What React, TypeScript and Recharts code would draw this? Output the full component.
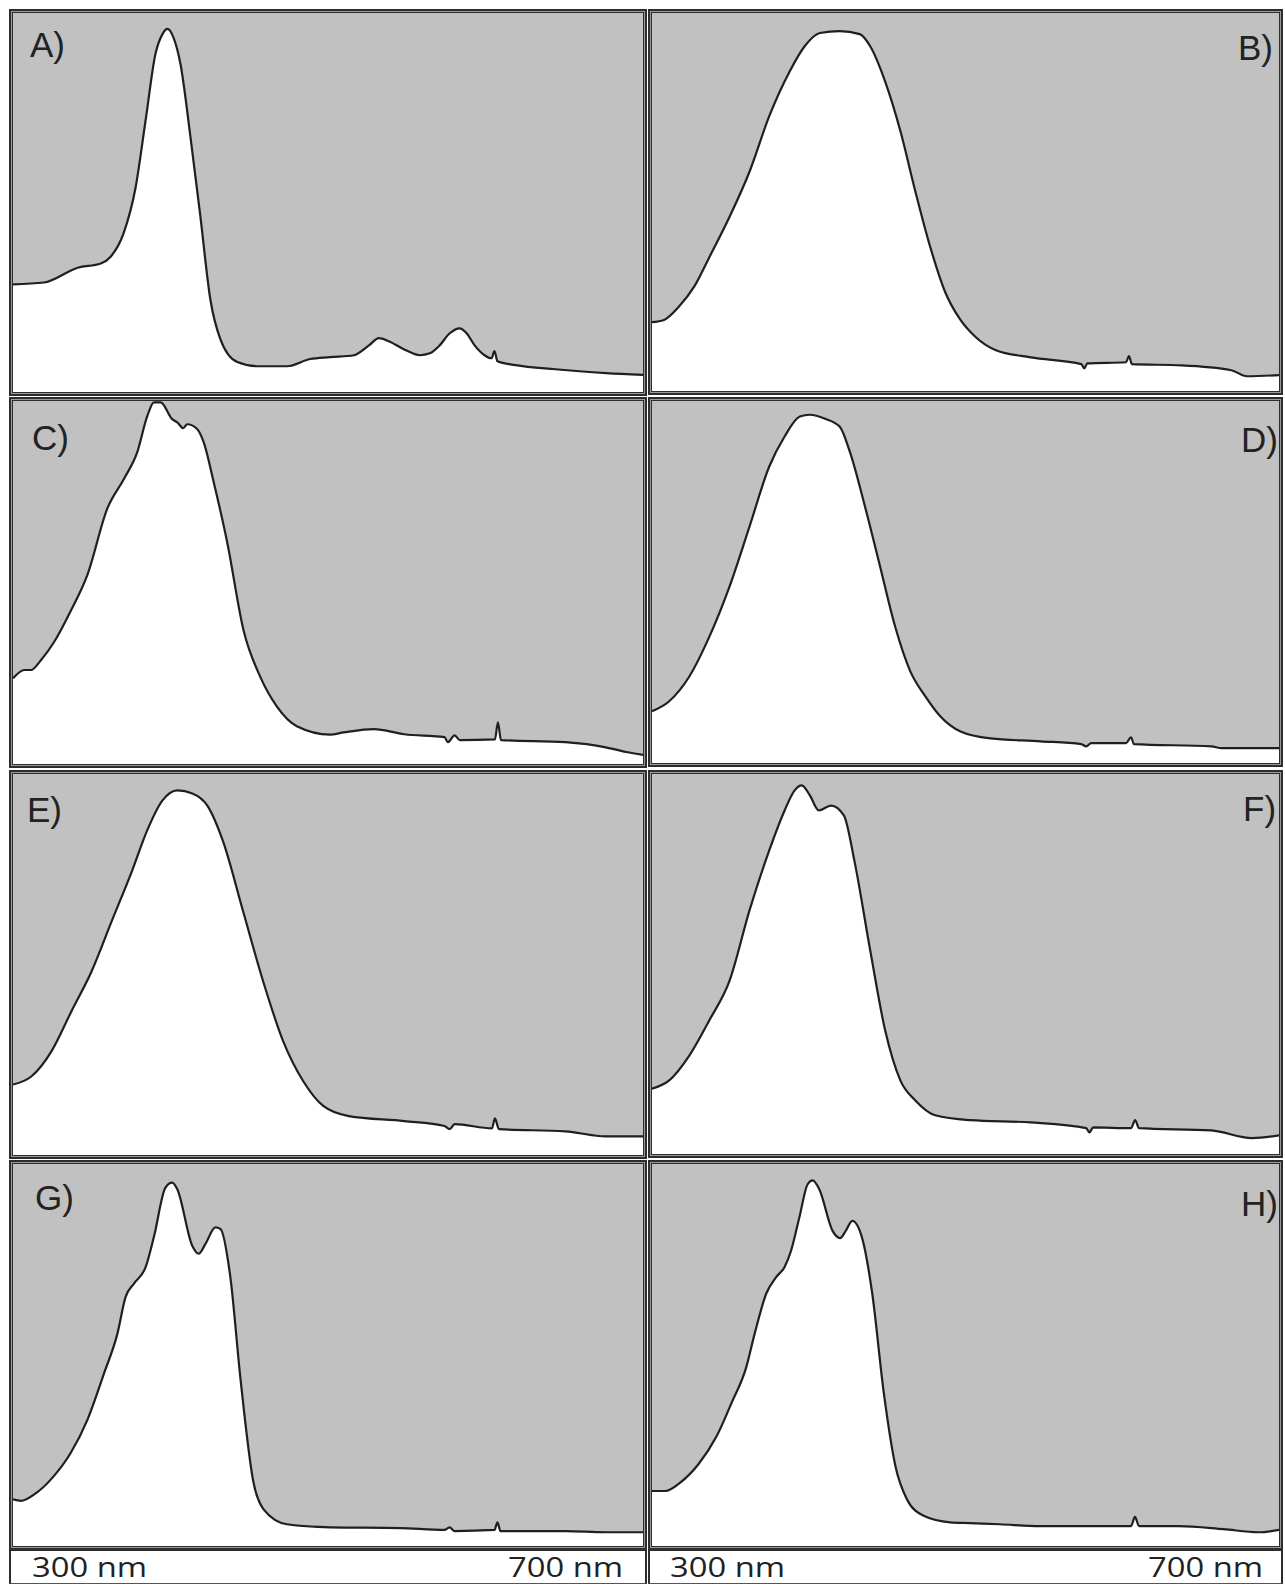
import React from "react";
import { AreaChart, Area, XAxis, YAxis } from "recharts";

// Each spectrum: [wavelength (nm), relative absorbance (% of full scale)]
const spectrumA: [number, number][] = [
  [300, 28.4], [319.6, 28.9], [341.1, 32.8], [355.7, 33.9], [362, 35.7], [370.3, 42], [377.9, 54.1],
  [384.2, 71.7], [390.5, 89.3], [395, 94.5], [398.1, 95.8], [401.9, 93.5], [406.3, 86.6], [412.7, 67.2],
  [419, 46.2], [425.3, 24.4], [431.7, 13.9], [442.4, 7.9], [455.1, 6.8], [474, 6.8], [488.6, 8.7],
  [501.3, 9.2], [516.5, 9.7], [526, 12.3], [532.3, 14.2], [538.6, 13.4], [548.1, 11.3], [558.3, 9.7],
  [564.6, 10.2], [570.9, 12.3], [577.3, 15.5], [583.6, 16.8], [588, 15.5], [593.1, 12.3], [599.4, 9.7],
  [603.8, 8.9], [605.7, 10.8], [607.6, 8.1], [619, 7.1], [644.4, 6], [676.6, 5], [700, 4.5],
];

const spectrumB: [number, number][] = [
  [300, 18.2], [307.6, 18.8], [317.1, 22.3], [326.9, 27.6], [336.6, 35.4], [349.5, 46.1], [362.2, 58],
  [374.8, 72.7], [387.9, 84.6], [397.4, 91.2], [407.1, 94.7], [419.8, 95.2], [432.5, 94.4], [439.2, 91.2],
  [448.7, 81.9], [458.5, 68.7], [468, 52.8], [477.5, 38.1], [487, 26.2], [496.8, 18.8], [506.4, 14.3],
  [519.4, 10.8], [541.6, 8.9], [573.9, 7.1], [575.8, 6], [577.7, 7.3], [602.4, 7.6], [604.3, 9.2],
  [606.2, 7.1], [637.9, 6.8], [669.6, 5.5], [679.5, 3.9], [700, 4.2],
];

const spectrumC: [number, number][] = [
  [300, 23.6], [307.2, 25.9], [311.4, 25.9], [317.7, 28.6], [326.1, 33.6], [336.7, 42.2], [347.3, 52.2],
  [359.9, 70.4], [370.5, 78.6], [378.9, 85.9], [385.3, 95.9], [389.5, 99.6], [393.7, 99.6], [401.1, 95],
  [404.3, 94.1], [408.1, 92.5], [410.6, 93.6], [416.9, 92.3], [421.1, 88.6], [427.4, 77.7], [435.9, 61.3],
  [446.4, 36.8], [457, 24], [467.6, 15.8], [480.2, 10.4], [501.3, 8.1], [510, 8.7], [529.1, 9.6],
  [548.4, 8.2], [574, 7.4], [576, 6], [580.4, 7.9], [583.6, 6.6], [606, 6.8], [607.9, 11.5],
  [609.8, 6.6], [650.7, 6], [676.4, 4.6], [689.3, 3.3], [700, 2.5],
];

const spectrumD: [number, number][] = [
  [300, 14.3], [310.8, 17], [323.8, 23.9], [336.6, 34.9], [349.5, 48.8], [362.2, 65.3], [374.8, 81.9],
  [384.6, 90.2], [394.3, 95.7], [400.7, 96.2], [410.4, 95.1], [419.8, 92.9], [426.2, 86], [435.9, 70.8],
  [445.5, 54.3], [455.1, 37.7], [464.8, 25.3], [474.4, 18.4], [483.9, 12.9], [496.8, 8.7], [516, 6.8],
  [547.9, 6], [573.9, 5.2], [577, 4.6], [580.2, 5.5], [602.4, 5.5], [605.6, 7.1], [607.5, 5.2],
  [656.9, 4.6], [663.3, 4.1], [700, 4.1],
];

const spectrumE: [number, number][] = [
  [300, 18.5], [311.6, 20.6], [324.4, 27.2], [337.2, 37.8], [350, 48.3], [362.8, 61.5], [375.6, 74.6],
  [385.2, 85.2], [394.8, 93], [404.4, 95.7], [413.9, 94.9], [423.4, 91.7], [433.2, 82.5], [446, 64.1],
  [458.8, 45.6], [471.5, 29.9], [484.4, 19.3], [497.2, 12.8], [513.2, 10.2], [548.4, 8.9], [574, 7.6],
  [577.3, 6.8], [580.4, 8.1], [604.1, 7], [606, 9.6], [608.5, 6.8], [650.7, 6.2], [676.4, 4.9], [700, 4.9],
];

const spectrumF: [number, number][] = [
  [300, 17.2], [310.8, 19.3], [323.8, 25.9], [336.6, 35.2], [349.5, 45.6], [362.2, 64.1], [374.8, 79.9],
  [384.6, 90.4], [391, 95.7], [395.5, 97], [400.7, 94.4], [406.4, 90.4], [414.2, 91.7], [422.4, 89.1],
  [429.1, 77.2], [439.2, 53.6], [448.7, 32.6], [458.5, 19.3], [468, 14.1], [480.7, 10.2], [503.2, 8.9],
  [541.6, 8.3], [577, 6.8], [579, 5.7], [581.5, 7], [605.6, 6.8], [608.2, 8.9], [610.7, 6.8],
  [656.9, 6.2], [682.8, 4.2], [700, 4.9],
];

const spectrumG: [number, number][] = [
  [300, 12.2], [305.1, 11.8], [313.5, 13.5], [325.1, 17.9], [336.7, 24.4], [347.3, 33.1], [357.8, 45.2],
  [366.3, 55.6], [371.5, 65.2], [376.8, 68.7], [384.2, 73], [389.4, 80.8], [396.8, 93.8], [401.1, 95.1],
  [404.3, 93.4], [413.8, 78.6], [417.9, 76.5], [422.2, 79.1], [428.5, 83.4], [431.7, 83], [438, 70.4],
  [444.3, 44.3], [452.7, 16.6], [459.1, 9.6], [473.9, 5.7], [501.3, 4.9], [545.6, 4.7], [574, 4.2],
  [577.2, 4.9], [580.4, 3.9], [605.7, 4.2], [607.6, 6.2], [609.5, 3.9], [650.7, 3.9], [676, 3.6], [700, 3.6],
];

const spectrumH: [number, number][] = [
  [300, 14.4], [308.5, 14.4], [318, 16.6], [329.6, 21.4], [341.2, 28.7], [350.7, 37.4], [360.2, 46.9],
  [365.5, 55.6], [372.9, 66.1], [379.2, 70.4], [384.5, 73], [388.7, 77.3], [394, 86], [399.3, 94.7],
  [402.5, 95.7], [406.7, 93.4], [415.2, 82.5], [420, 80.6], [423.6, 82.5], [427.8, 85.1], [434.2, 80.4],
  [440.5, 66.1], [447.9, 40], [455.3, 20.9], [462.7, 12.2], [473.3, 7.9], [490.2, 6.2], [502.8, 6],
  [521.9, 5.7], [547.3, 5.2], [579, 5.2], [605.6, 5.2], [608.1, 7.6], [610.7, 5.2], [636, 5.2],
  [664.6, 4.4], [686.8, 3.6], [700, 4.2],
];

const panelLabels = ["A)", "B)", "C)", "D)", "E)", "F)", "G)", "H)"];
const axisLabels = ["300 nm", "700 nm"];
const WL_MIN = 300;
const WL_MAX = 700;

const BORDER = 4;

type PanelCfg = {
  data: [number, number][];
  label: string;
  left: number;
  top: number;
  w: number;
  h: number;
  labelLeft: number;
  labelBase: number;
};

const panels: PanelCfg[] = [
  { data: spectrumA, label: panelLabels[0], left: 9, top: 9, w: 638, h: 387, labelLeft: 21, labelBase: 48 },
  { data: spectrumB, label: panelLabels[1], left: 648, top: 9, w: 635, h: 386, labelLeft: 590, labelBase: 51 },
  { data: spectrumC, label: panelLabels[2], left: 9, top: 397, w: 638, h: 371, labelLeft: 23, labelBase: 53 },
  { data: spectrumD, label: panelLabels[3], left: 648, top: 397, w: 635, h: 370, labelLeft: 593, labelBase: 55 },
  { data: spectrumE, label: panelLabels[4], left: 9, top: 770, w: 638, h: 389, labelLeft: 18, labelBase: 52 },
  { data: spectrumF, label: panelLabels[5], left: 648, top: 770, w: 635, h: 388, labelLeft: 595, labelBase: 51 },
  { data: spectrumG, label: panelLabels[6], left: 9, top: 1160, w: 638, h: 390, labelLeft: 26, labelBase: 50 },
  { data: spectrumH, label: panelLabels[7], left: 648, top: 1160, w: 635, h: 390, labelLeft: 593, labelBase: 56 },
];

function Panel({ cfg }: { cfg: PanelCfg }) {
  const data = cfg.data.map(([nm, a]) => ({ nm, a }));
  const iw = cfg.w - BORDER * 2;
  const ih = cfg.h - BORDER * 2;
  return (
    <div
      style={{
        position: "absolute",
        left: cfg.left,
        top: cfg.top,
        width: cfg.w,
        height: cfg.h,
        boxSizing: "border-box",
        border: "2px solid #2d2d2d",
        padding: 2,
        background: "#ffffff",
        boxShadow: "inset 0 0 0 1px #9a9a9a, inset 0 0 0 2px #2d2d2d",
        overflow: "hidden",
      }}
    >
      <div style={{ position: "relative", width: iw, height: ih, background: "#c1c1c1" }}>
        <AreaChart width={iw} height={ih} data={data} margin={{ top: 0, right: 0, bottom: 0, left: 0 }}>
          <XAxis dataKey="nm" type="number" domain={[WL_MIN, WL_MAX]} hide />
          <YAxis type="number" domain={[0, 100]} hide />
          <Area
            type="monotone"
            dataKey="a"
            stroke="#1f1f1f"
            strokeWidth={2.2}
            strokeLinejoin="round"
            fill="#ffffff"
            fillOpacity={1}
            isAnimationActive={false}
            dot={false}
            activeDot={false}
          />
        </AreaChart>
        <div
          style={{
            position: "absolute",
            left: cfg.labelLeft - 4,
            top: cfg.labelBase - 4 - 32,
            fontFamily: "'Liberation Sans', Arial, sans-serif",
            fontSize: 35,
            lineHeight: "40px",
            color: "#222",
            whiteSpace: "nowrap",
          }}
        >
          {cfg.label}
        </div>
      </div>
    </div>
  );
}

function LabelCell({ left, width, leftTextX, rightTextEnd }: { left: number; width: number; leftTextX: number; rightTextEnd: number }) {
  return (
    <div
      style={{
        position: "absolute",
        left,
        top: 1549,
        width,
        height: 35,
        boxSizing: "border-box",
        borderTop: "2px solid #2d2d2d",
        borderLeft: "2px solid #2d2d2d",
        borderRight: "2px solid #2d2d2d",
        borderBottom: "1px solid #555",
        background: "#fff",
      }}
    >
      <svg width={width} height={35} style={{ position: "absolute", left: -2, top: -2, overflow: "visible" }}>
        <text
          x={leftTextX}
          y={28}
          fontFamily="'Open Sans', sans-serif"
          fontSize={28}
          fill="#222"
          textLength={115}
          lengthAdjust="spacingAndGlyphs"
        >
          {axisLabels[0]}
        </text>
        <text
          x={rightTextEnd - 115}
          y={28}
          fontFamily="'Open Sans', sans-serif"
          fontSize={28}
          fill="#222"
          textLength={115}
          lengthAdjust="spacingAndGlyphs"
        >
          {axisLabels[1]}
        </text>
      </svg>
    </div>
  );
}

export default function App() {
  return (
    <div style={{ position: "absolute", left: 0, top: 0, width: 1285, height: 1585, background: "#fff", overflow: "hidden" }}>
      {panels.map((p) => (
        <Panel key={p.label} cfg={p} />
      ))}
      <LabelCell left={9} width={638} leftTextX={23} rightTextEnd={614} />
      <LabelCell left={648} width={635} leftTextX={22} rightTextEnd={615} />
    </div>
  );
}
